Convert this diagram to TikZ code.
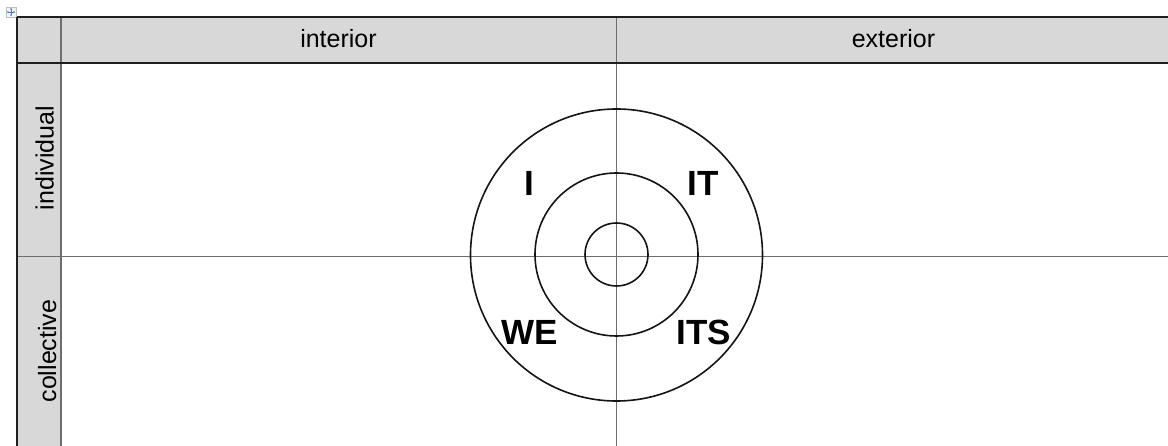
\documentclass[tikz,border=0pt]{standalone}
\usepackage{fontspec}
\setmainfont{Liberation Sans}
\usetikzlibrary{arrows.meta,positioning}
\definecolor{cellgray}{HTML}{D8D8D8}
\definecolor{rulegray}{HTML}{6E6E6E}
\definecolor{handleblue}{HTML}{3D7BD9}

\begin{document}
\begin{tikzpicture}[
  x=1pt, y=-1pt,
  head/.style={font=\fontsize{25}{30}\selectfont, inner sep=0pt},
  side/.style={font=\fontsize{25}{30}\selectfont, rotate=90, inner sep=0pt, anchor=south},
  ring/.style={draw=black!92, line width=1.6pt, circle, inner sep=0pt},
  quad/.style={font=\fontsize{35}{40}\selectfont\bfseries, inner sep=0pt},
  grid/.style={draw=rulegray, line width=0.9pt},
  frame/.style={draw=black!88, line width=1.5pt},
  handlebox/.style={draw=black!25, fill=black!4, minimum width=10pt, minimum height=10pt, inner sep=0pt}
]
  \useasboundingbox (0,0) rectangle (1168,446);

  % shaded header row and side column
  \fill[cellgray] (17,17) rectangle (1168,63);
  \fill[cellgray] (17,63) rectangle (61,446);

  % table corners and rule ends
  \coordinate (tl) at (17,17);
  \coordinate (tr) at (1168,17);
  \coordinate (hl) at (17,63);
  \coordinate (hr) at (1168,63);
  \coordinate (bl) at (17,446);
  \coordinate (st) at (61,17);
  \coordinate (sb) at (61,446);
  \coordinate (mt) at (616,17);
  \coordinate (mb) at (616,446);
  \coordinate (ml) at (17,256);
  \coordinate (mr) at (1168,256);

  % move handle
  \node[handlebox] (handle) at (11,12) {};
  \draw[handleblue, line width=0.6pt, {Latex[length=1.6pt,width=2pt]}-{Latex[length=1.6pt,width=2pt]}]
    ([xshift=1pt]handle.west) -- ([xshift=-1pt]handle.east);
  \draw[handleblue, line width=0.6pt, {Latex[length=1.6pt,width=2pt]}-{Latex[length=1.6pt,width=2pt]}]
    ([yshift=-1pt]handle.north) -- ([yshift=1pt]handle.south);

  % rules
  \draw[grid] (ml) -- (mr);
  \draw[grid] (mt) -- (mb);
  \draw[draw=rulegray, line width=1.6pt] (st) -- (sb);
  \draw[frame] (tl) -- (tr);
  \draw[frame] (hl) -- (hr);
  \draw[frame] (tl) -- (bl);

  % headings
  \node[head] (interior) at (338.5,39) {interior};
  \node[head] (exterior) at (893.5,39) {exterior};
  \node[side] (individual) at (54,158) {individual};
  \node[side] (collective) at (56.5,351) {collective};

  % rings
  \node[ring, minimum size=292pt] (outer) at (616.5,255) {};
  \node[ring, minimum size=163pt] (middle) at (616.5,254.5) {};
  \node[ring, minimum size=63pt] (inner) at (616.5,254.5) {};

  % quadrant labels
  \node[quad] (I) at (529,183) {I};
  \node[quad] (IT) at (703.5,183) {IT};
  \node[quad] (WE) at (530,332) {WE};
  \node[quad] (ITS) at (703.5,332) {ITS};
\end{tikzpicture}
\end{document}
